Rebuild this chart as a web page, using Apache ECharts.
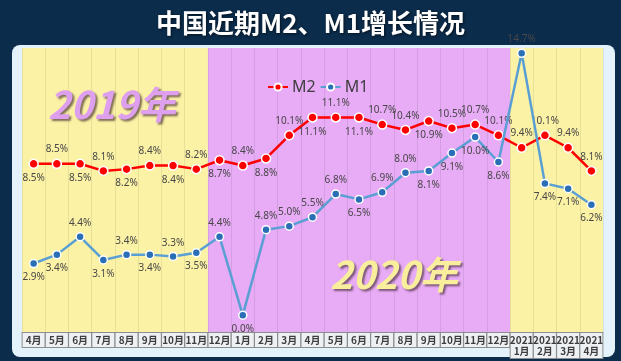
<!DOCTYPE html>
<html>
<head>
<meta charset="utf-8">
<script src="https://cdn.jsdelivr.net/npm/echarts@6/dist/echarts.min.js"></script>
<style>
html,body{margin:0;padding:0;width:621px;height:361px;overflow:hidden;background:#0b2c4b;}
#panel{position:absolute;left:12px;top:45px;width:603px;height:312px;background:#e4f3fb;border-radius:8px;}
#chart{position:absolute;left:0;top:0;width:621px;height:361px;}
</style>
</head>
<body>
<div id="panel"></div>
<div id="chart"></div>
<script>
var categories = ['4月','5月','6月','7月','8月','9月','10月','11月','12月',
  '1月','2月','3月','4月','5月','6月','7月','8月','9月','10月','11月','12月',
  '2021\n1月','2021\n2月','2021\n3月','2021\n4月'];
var m2 = [8.5,8.5,8.5,8.1,8.2,8.4,8.4,8.2,8.7,
  8.4,8.8,10.1,11.1,11.1,11.1,10.7,10.4,10.9,10.5,10.7,10.1,
  9.4,10.1,9.4,8.1];
var m1 = [2.9,3.4,4.4,3.1,3.4,3.4,3.3,3.5,4.4,
  0.0,4.8,5.0,5.5,6.8,6.5,6.9,8.0,8.1,9.1,10.0,8.6,
  14.7,7.4,7.1,6.2];
var m2LabelPos = ['bottom','top','bottom','top','bottom','top','bottom','top','bottom',
  'top','bottom','top','bottom','top','bottom','top','top','bottom','top','top','top',
  'top','top','top','top'];
var m1LabelPos = ['bottom','bottom','top','bottom','top','bottom','top','bottom','top',
  'bottom','top','top','top','top','bottom','top','top','bottom','bottom','bottom','bottom',
  'top','bottom','bottom','bottom'];
// background band colours per category
var Y = '#fcf2a6', P = '#e8abf6';
var bandColors = [Y,Y,Y,Y,Y,Y,Y,Y, P,P,P,P,P,P,P,P,P,P,P,P,P, Y,Y,Y,Y];

function mk(vals, pos) {
  return vals.map(function (v, i) {
    return { value: v, label: { position: pos[i] } };
  });
}

var chart = echarts.init(document.getElementById('chart'));
var lblStyle = {
  show: true, fontSize: 10, color: '#474747', distance: 4,
  fontFamily: 'Noto Sans', formatter: function (p) { return p.value.toFixed(1) + '%'; }
};
chart.setOption({
  animation: false,
  title: {
    text: '中国近期M2、M1增长情况', left: 'center', top: 5,
    textStyle: { color: '#ffffff', fontSize: 26, fontWeight: 'bold', fontFamily: 'Noto Sans CJK SC',
      textShadowColor: 'rgba(0,0,0,0.6)', textShadowBlur: 3, textShadowOffsetX: 1, textShadowOffsetY: 1 }
  },
  legend: {
    top: 74, left: 262, itemWidth: 20, itemHeight: 9, itemGap: 4,
    textStyle: { fontSize: 16, color: '#3d3d3d', fontFamily: 'Noto Sans', padding: [0, 0, 0, -1] },
    data: ['M2', 'M1']
  },
  grid: { left: 22, right: 18, top: 48, bottom: 28 },
  xAxis: {
    type: 'category', data: categories, boundaryGap: true,
    axisLine: { show: false }, axisTick: { show: false },
    splitLine: { show: true, interval: 0, lineStyle: { color: 'rgba(0,0,0,0.08)' } },
    splitArea: { show: true, interval: 0, areaStyle: { color: bandColors } },
    axisLabel: {
      interval: 0, margin: 0, fontSize: 10, fontWeight: 'bold', color: '#3d3d3d', lineHeight: 11,
      fontFamily: 'Noto Sans CJK SC', verticalAlign: 'top',
      backgroundColor: '#eef1f4', borderColor: '#8d8d8d', borderWidth: 1,
      width: 22, padding: [2, 0, 1, 0], align: 'center'
    }
  },
  yAxis: {
    type: 'value', min: -1, max: 15, interval: 2,
    axisLabel: { show: false }, axisLine: { show: false }, axisTick: { show: false },
    splitLine: { show: true, lineStyle: { color: 'rgba(0,0,0,0.09)' } }
  },
  graphic: [
    { type: 'text', left: 48, top: 86, z: 1, silent: true,
      style: { text: '2019年', fill: '#dd9fee', font: 'italic bold 38px "Noto Sans CJK SC"',
        textShadowColor: 'rgba(90,70,60,0.75)', textShadowBlur: 2, textShadowOffsetX: 2, textShadowOffsetY: 2 } },
    { type: 'text', left: 330, top: 256, z: 1, silent: true,
      style: { text: '2020年', fill: '#f8ee9c', font: 'italic bold 38px "Noto Sans CJK SC"',
        textShadowColor: 'rgba(90,60,80,0.75)', textShadowBlur: 2, textShadowOffsetX: 2, textShadowOffsetY: 2 } }
  ],
  series: [
    { name: 'M2', type: 'line', data: mk(m2, m2LabelPos), symbol: 'circle', symbolSize: 9,
      lineStyle: { color: '#ff0000', width: 2.5 },
      itemStyle: { color: '#ff0000', borderColor: '#ffffff', borderWidth: 1.5 },
      label: lblStyle, z: 3 },
    { name: 'M1', type: 'line', data: mk(m1, m1LabelPos), symbol: 'circle', symbolSize: 8,
      lineStyle: { color: '#5a9fd4', width: 2.5 },
      itemStyle: { color: '#2a6fb5', borderColor: '#ffffff', borderWidth: 1.5 },
      label: lblStyle, z: 4 }
  ]
});
</script>
</body>
</html>
